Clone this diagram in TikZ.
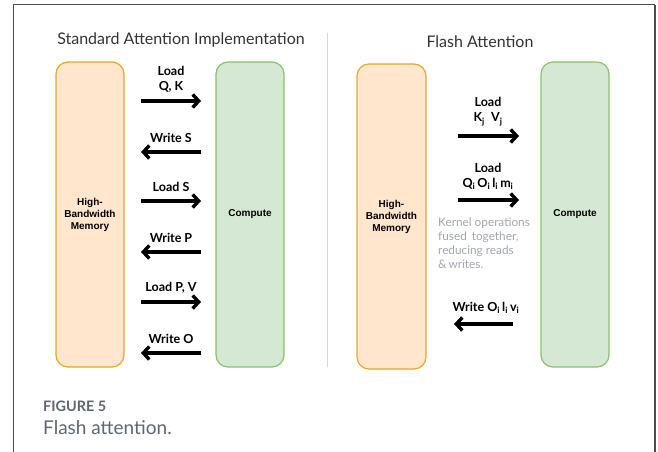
\documentclass[tikz,border=0pt]{standalone}
\usepackage{fontspec}
\setmainfont{Lato}
\newfontfamily\boxfont{Liberation Sans}
\usetikzlibrary{arrows.meta}

\definecolor{hbmfill}{HTML}{FFE6CC}
\definecolor{hbmline}{HTML}{E3A92A}
\definecolor{cpufill}{HTML}{D5E8D4}
\definecolor{cpuline}{HTML}{8CC06E}
\definecolor{capgray}{HTML}{5F6670}
\definecolor{notegray}{HTML}{A2A6AD}

\tikzset{
    hbm/.style={draw=hbmline, fill=hbmfill, line width=1.2pt, rounded corners=12pt,
        minimum width=68pt, minimum height=305pt, align=center,
        font=\boxfont\bfseries\fontsize{10}{12}\selectfont},
    cpu/.style={hbm, draw=cpuline, fill=cpufill},
    flow/.style={-{Straight Barb[length=6pt,width=13pt]}, line width=3.4pt},
    lbl/.style={font=\bfseries\fontsize{12.5}{15}\selectfont, inner sep=1pt},
}

\begin{document}
\begin{tikzpicture}[x=1pt, y=-1pt]
    \useasboundingbox (0,0) rectangle (658,452);

    % cornice
    \draw[black!70, line width=1pt] (13,452) -- (13,5) -- (655,5);
    \draw[black!70, line width=2pt] (655,5) -- (655,452);

    % separatore
    \draw[black!15, line width=0.8pt] (327,33) -- (327,367);

    % titoli
    \node[font=\fontsize{16}{18}\selectfont, text=black!80] (titL) at (181,40) {Standard Attention Implementation};
    \node[font=\fontsize{16}{18}\selectfont, text=black!80] (titR) at (480,42) {Flash Attention};

    % blocchi a sinistra
    \node[hbm] (hbmL) at (90,214.5) {High-\\Bandwidth\\Memory};
    \node[cpu] (cpuL) at (250,214.5) {Compute};

    % blocchi a destra
    \node[hbm, minimum width=69pt] (hbmR) at (391.5,216.5) {High-\\Bandwidth\\Memory};
    \node[cpu] (cpuR) at (575,214.5) {Compute};

    % frecce standard
    \foreach \y/\dir/\txt [count=\i] in {101/1/{Load\\Q, K}, 152/0/{Write S}, 201/1/{Load S},
                                        252/0/{Write P}, 302/1/{Load P, V}, 353/0/{Write O}} {
        \coordinate (a\i) at (141,\y);
        \coordinate (b\i) at (201,\y);
        \ifnum\dir=1
            \draw[flow] (a\i) -- (b\i);
        \else
            \draw[flow] (b\i) -- (a\i);
        \fi
        \node[lbl, align=center, anchor=south] (l\i) at (171,\y-8) {\txt};
    }

    % frecce flash
    \coordinate (c1) at (458,136);
    \coordinate (d1) at (519,136);
    \draw[flow] (c1) -- (d1);
    \node[lbl, align=center, anchor=south] (m1) at (488,127) {Load\\K\textsubscript{j}\enspace V\textsubscript{j}};

    \coordinate (c2) at (458,200);
    \coordinate (d2) at (519,200);
    \draw[flow] (c2) -- (d2);
    \node[lbl, align=center, anchor=south] (m2) at (488,191) {Load\\Q\textsubscript{i}\,O\textsubscript{i}\,l\textsubscript{i}\,m\textsubscript{i}};

    \coordinate (c3) at (454,324);
    \coordinate (d3) at (513,324);
    \draw[flow] (d3) -- (c3);
    \node[lbl, anchor=south] (m3) at (486,315) {Write O\textsubscript{i}\,l\textsubscript{i}\,v\textsubscript{i}};

    % nota
    \node[text=notegray, align=left, anchor=north west, inner sep=0pt,
          font=\fontsize{11.8}{14}\selectfont] (nota) at (438,218)
          {Kernel operations\\fused\, together,\\reducing reads\\\&\,writes.};

    % didascalia
    \node[text=capgray, anchor=west, inner sep=0pt, font=\bfseries\fontsize{14.4}{16}\selectfont] (fig) at (43,406) {FIGURE 5};
    \node[text=capgray, anchor=west, inner sep=0pt, font=\fontsize{19}{21}\selectfont] (cap) at (43,428) {Flash attention.};
\end{tikzpicture}
\end{document}
